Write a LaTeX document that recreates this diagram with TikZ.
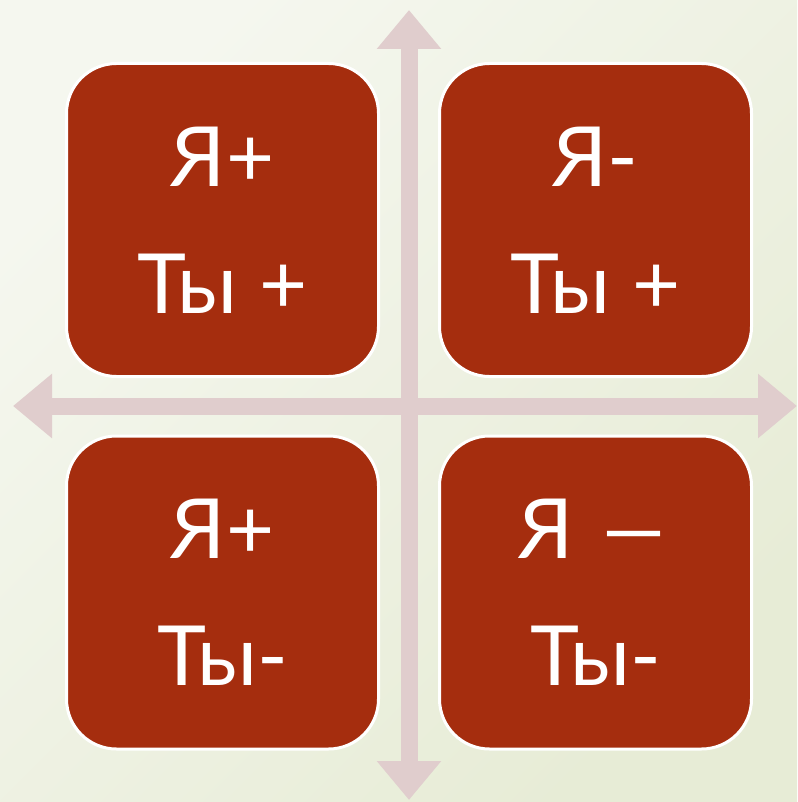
\documentclass[tikz,border=0pt]{standalone}
\usepackage{fontspec}
\setmainfont{Lato}
\usetikzlibrary{arrows.meta,positioning}
\definecolor{bgLight}{HTML}{F5F7EF}
\definecolor{bgDark}{HTML}{E7ECD6}
\definecolor{axisPink}{HTML}{E0CDCD}
\definecolor{cellRed}{HTML}{A52D0E}
\tikzset{
  cell/.style={draw=white, line width=3pt, fill=cellRed, rounded corners=50pt,
    minimum width=312pt, minimum height=313pt, text=white, align=center,
    font=\fontsize{83}{127}\selectfont},
  axis/.style={axisPink, line width=17pt,
    {Triangle[width=62pt,length=39pt]}-{Triangle[width=62pt,length=39pt]}}
}
\begin{document}
\begin{tikzpicture}[x=1pt,y=-1pt]
  \useasboundingbox (0,0) rectangle (797,802);
  \shade[top color=bgLight, bottom color=bgDark, shading angle=45] (0,0) rectangle (797,802);
  % axes
  \coordinate (top) at (409,10);
  \coordinate (bottom) at (409,800);
  \coordinate (left) at (13,406);
  \coordinate (right) at (797,406);
  \draw[axis] (top) -- (bottom);
  \draw[axis] (left) -- (right);
  % quadrants
  \node[cell] (tl) at (222.5,220) {Я+\\Ты +};
  \node[cell] (tr) at (595.5,220) {Я-\\Ты +};
  \node[cell] (bl) at (222.5,592.5) {Я+\\Ты-};
  \node[cell] (br) at (595.5,592.5) {Я \scalebox{1.6}[1]{–}\\Ты-};
\end{tikzpicture}
\end{document}
